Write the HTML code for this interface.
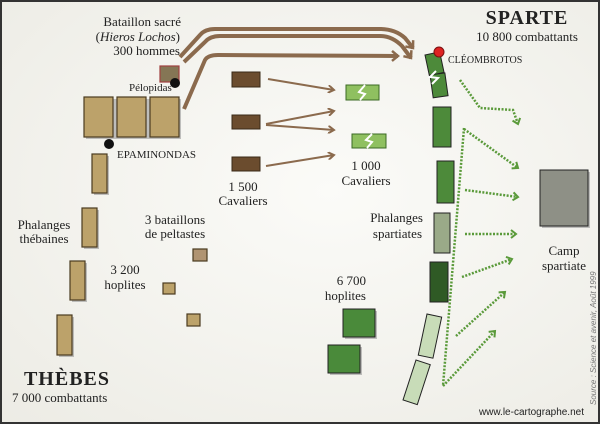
<!DOCTYPE html>
<html><head><meta charset="utf-8"><style>
html,body{margin:0;padding:0;}
body{width:600px;height:424px;overflow:hidden;}
svg text{font-family:"Liberation Serif",serif;fill:#222;}
</style></head><body>
<svg width="600" height="424" viewBox="0 0 600 424" xmlns="http://www.w3.org/2000/svg">
<defs>
<radialGradient id="bg" cx="0.55" cy="0.45" r="0.8">
<stop offset="0" stop-color="#fbfbf8"/><stop offset="1" stop-color="#ecebe4"/>
</radialGradient>
<marker id="ab" markerWidth="12" markerHeight="12" refX="8" refY="6" orient="auto" markerUnits="userSpaceOnUse"><path d="M2,1 L8,6 L2,11" fill="none" stroke="#8b6a4d" stroke-width="2.5"/></marker>
<marker id="ab2" markerWidth="8" markerHeight="8" refX="6" refY="4" orient="auto" markerUnits="userSpaceOnUse"><path d="M0,0 L6,4 L0,8" fill="none" stroke="#8b6a4d" stroke-width="2"/></marker>
<marker id="ag" markerWidth="10" markerHeight="10" refX="7" refY="5" orient="auto" markerUnits="userSpaceOnUse"><path d="M2,1 L7,5 L2,9" fill="none" stroke="#5a9a3a" stroke-width="2"/></marker>
</defs>
<rect x="0" y="0" width="600" height="424" fill="url(#bg)"/>
<rect x="1" y="1" width="598" height="422" fill="none" stroke="#333" stroke-width="2"/>

<g fill="none" stroke="#8b6a4d" stroke-width="4">
<path d="M180,57 L200,35 Q205,29 215,29 L380,29 Q395,29 405,38 L413,48" marker-end="url(#ab)"/>
<path d="M184,62 L205,42 Q210,36 220,36 L380,36 Q392,36 402,46 L411,58" marker-end="url(#ab)"/>
<path d="M184,109 L205,60 Q208,55 218,55 L398,56" marker-end="url(#ab)"/>
</g>
<g fill="none" stroke="#8b6a4d" stroke-width="2">
<path d="M268,79 L334,90" marker-end="url(#ab2)"/>
<path d="M266,124 L334,111" marker-end="url(#ab2)"/>
<path d="M266,125 L334,130" marker-end="url(#ab2)"/>
<path d="M266,166 L334,155" marker-end="url(#ab2)"/>
</g>

<!-- shadows -->
<g fill="#999" opacity="0.6">
<rect x="86" y="99" width="95" height="40"/>
<rect x="94" y="156" width="15" height="39"/>
<rect x="84" y="210" width="15" height="39"/>
<rect x="72" y="263" width="15" height="39"/>
<rect x="59" y="317" width="15" height="40"/>
<rect x="345" y="311" width="32" height="28"/>
<rect x="330" y="347" width="32" height="28"/>
<rect x="542" y="172" width="48" height="56"/>
</g>

<g fill="#bca26a" stroke="#4a3b20" stroke-width="1.2">
<rect x="84" y="97" width="29" height="40"/>
<rect x="117" y="97" width="29" height="40"/>
<rect x="150" y="97" width="29" height="40"/>
<rect x="92" y="154" width="15" height="39"/>
<rect x="82" y="208" width="15" height="39"/>
<rect x="70" y="261" width="15" height="39"/>
<rect x="57" y="315" width="15" height="40"/>
<rect x="193" y="249" width="14" height="12" fill="#b09472"/>
<rect x="163" y="283" width="12" height="11"/>
<rect x="187" y="314" width="13" height="12"/>
</g>
<rect x="160" y="66" width="19" height="16" fill="#857655" stroke="#a04040" stroke-width="1.2"/>
<circle cx="175" cy="83" r="5" fill="#111"/>
<circle cx="109" cy="144" r="5" fill="#111"/>

<g fill="#6b4c2e" stroke="#3a2a18" stroke-width="1">
<rect x="232" y="72" width="28" height="15"/>
<rect x="232" y="115" width="28" height="14"/>
<rect x="232" y="157" width="28" height="14"/>
</g>

<g fill="#8fc060" stroke="#3b6a25" stroke-width="1">
<rect x="346" y="85" width="33" height="15"/>
<rect x="352" y="134" width="34" height="14"/>
</g>
<g fill="none" stroke="#fff" stroke-width="2">
<path d="M365,85 L359,92 L365,94 L360,100"/>
<path d="M372,134 L366,140 L372,142 L367,148"/>
</g>

<g stroke="#222" stroke-width="1">
<rect x="0" y="0" width="15" height="21" fill="#4d8a3a" transform="translate(425,55) rotate(-12)"/>
<rect x="0" y="0" width="15" height="23" fill="#4d8a3a" transform="translate(430,75) rotate(-8)"/>
<rect x="433" y="107" width="18" height="40" fill="#4d8a3a"/>
<rect x="437" y="161" width="17" height="42" fill="#4d8a3a"/>
<rect x="434" y="213" width="16" height="40" fill="#9aaa88"/>
<rect x="430" y="262" width="18" height="40" fill="#2f5a25"/>
<rect x="0" y="0" width="15" height="42" fill="#c8dcb8" transform="translate(427,314) rotate(12)"/>
<rect x="0" y="0" width="15" height="42" fill="#c8dcb8" transform="translate(416,360) rotate(18)"/>
<rect x="343" y="309" width="32" height="28" fill="#4a8a3a"/>
<rect x="328" y="345" width="32" height="28" fill="#4a8a3a"/>
<rect x="540" y="170" width="48" height="56" fill="#8e9086"/>
</g>
<path d="M436,71 L430,77 L438,78 L432,84" fill="none" stroke="#fff" stroke-width="2"/>
<circle cx="439" cy="52" r="5" fill="#d22" stroke="#7a1010" stroke-width="1"/>

<g fill="none" stroke="#5a9a3a" stroke-width="2.5" stroke-dasharray="2,1.5">
<path d="M460,80 L480,108 L513,110 L518,124" marker-end="url(#ag)"/>
<path d="M464,128 L443,386"/>
<path d="M464,129 L518,168" marker-end="url(#ag)"/>
<path d="M465,190 L518,197" marker-end="url(#ag)"/>
<path d="M465,234 L516,234" marker-end="url(#ag)"/>
<path d="M462,277 L512,259" marker-end="url(#ag)"/>
<path d="M456,336 L505,292" marker-end="url(#ag)"/>
<path d="M443,386 L495,331" marker-end="url(#ag)"/>
</g>

<g font-size="13">
<text x="181" y="26" text-anchor="end">Bataillon sacré</text>
<text x="180" y="41" text-anchor="end">(<tspan font-style="italic">Hieros Lochos</tspan>)</text>
<text x="180" y="55" text-anchor="end">300 hommes</text>
<text x="243" y="191" text-anchor="middle">1 500</text>
<text x="243" y="205" text-anchor="middle">Cavaliers</text>
<text x="366" y="170" text-anchor="middle">1 000</text>
<text x="366" y="185" text-anchor="middle">Cavaliers</text>
<text x="175" y="224" text-anchor="middle">3 bataillons</text>
<text x="175" y="238" text-anchor="middle">de peltastes</text>
<text x="44" y="229" text-anchor="middle">Phalanges</text>
<text x="44" y="243" text-anchor="middle">thébaines</text>
<text x="125" y="274" text-anchor="middle">3 200</text>
<text x="125" y="289" text-anchor="middle">hoplites</text>
<text x="423" y="222" text-anchor="end">Phalanges</text>
<text x="422" y="238" text-anchor="end">spartiates</text>
<text x="366" y="285" text-anchor="end">6 700</text>
<text x="366" y="300" text-anchor="end">hoplites</text>
<text x="564" y="255" text-anchor="middle">Camp</text>
<text x="564" y="270" text-anchor="middle">spartiate</text>
<text x="527" y="41" text-anchor="middle">10 800 combattants</text>
<text x="12" y="402">7 000 combattants</text>
</g>
<text x="129" y="91" font-size="11">Pélopidas</text>
<text x="117" y="158" font-size="11">EPAMINONDAS</text>
<text x="448" y="63" font-size="10">CLÉOMBROTOS</text>
<text x="527" y="24" font-size="20" font-weight="bold" text-anchor="middle" letter-spacing="1">SPARTE</text>
<text x="67" y="385" font-size="20" font-weight="bold" text-anchor="middle" letter-spacing="1">THÈBES</text>
<text x="584" y="415" font-size="10" text-anchor="end" style="font-family:'Liberation Sans',sans-serif">www.le-cartographe.net</text>
<text transform="translate(596,405) rotate(-90)" font-size="8" font-style="italic" style="font-family:'Liberation Sans',sans-serif;fill:#777">Source : Science et avenir, Août 1999</text>
</svg>
</body></html>
